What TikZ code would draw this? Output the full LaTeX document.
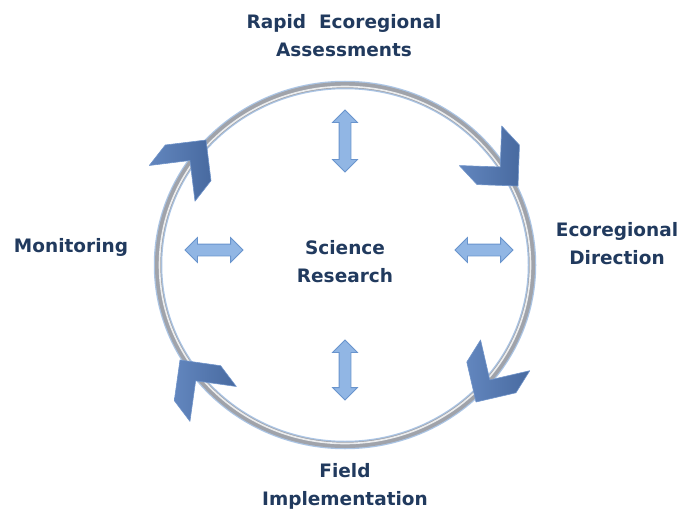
\documentclass[tikz,border=0pt]{standalone}
\usepackage{fontspec}
\setmainfont{DejaVu Sans}
\usepackage{tikz}
\usetikzlibrary{calc, shapes.arrows}
\tikzset{>=latex}
\definecolor{navy}{RGB}{33,58,94}
\definecolor{paleblue}{RGB}{145,182,228}
\definecolor{edgeblue}{RGB}{105,148,205}
\definecolor{chevblue}{RGB}{72,106,160}
\definecolor{chevlight}{RGB}{98,134,190}
\definecolor{chevedge}{RGB}{112,148,202}
\definecolor{ringgray}{RGB}{160,163,170}
\definecolor{ringblue}{RGB}{170,196,228}
\tikzset{
  label/.style={font=\bfseries\fontsize{18.5}{28}\selectfont, text=navy, align=center},
  dblarrow/.style={double arrow, fill=paleblue, draw=edgeblue, line width=0.8pt,
    minimum height=#1, minimum width=0pt, inner xsep=0pt, inner ysep=5.5pt,
    double arrow head extend=6.5pt},
  chevron/.style={left color=chevlight, right color=chevblue, draw=chevedge,
    line width=0.6pt, line join=round}
}
% chevron with its tip at the origin, pointing along +x
\newcommand{\chev}[2]{%
  \begin{scope}[shift={#1}, rotate=#2]
    \path[chevron] (0,0) -- (-29,29) -- (-55,29) -- (-26,0)
      -- (-55,-29) -- (-29,-29) -- cycle;
  \end{scope}}
\begin{document}
\begin{tikzpicture}[x=1pt, y=1pt]
\useasboundingbox (0,0) rectangle (679,515);

% ring
\coordinate (c) at (345,250);
\draw[ringblue, line width=8.5] (c) ellipse [x radius=187, y radius=180];
\draw[ringgray, line width=6] (c) ellipse [x radius=187, y radius=180];
\draw[white!80!ringgray, line width=1.6] (c) ellipse [x radius=185.5, y radius=178.5];

% chevrons on the ring, clockwise
\coordinate (ur) at (518,329);
\coordinate (lr) at (476,113);
\coordinate (ll) at (180,155);
\coordinate (ul) at (206,375);
\chev{(ur)}{-47}
\chev{(lr)}{238}
\chev{(ll)}{127}
\chev{(ul)}{52}

% labels
\node[label] (rea) at (344,479) {Rapid\ \ Ecoregional\\Assessments};
\node[label] (dir) at (617,271) {Ecoregional\\Direction};
\node[label] (fld) at (345,29) {Field\\Implementation};
\node[label] (mon) at (71,268) {Monitoring};
\node[label] (sci) at (345,253) {Science\\Research};

% double arrows
\node[dblarrow=62pt, rotate=90] (up) at (345,374) {};
\node[dblarrow=60pt, rotate=90] (dn) at (345,145) {};
\node[dblarrow=58pt] (lt) at (214,265) {};
\node[dblarrow=58pt] (rt) at (484,265) {};
\end{tikzpicture}
\end{document}
